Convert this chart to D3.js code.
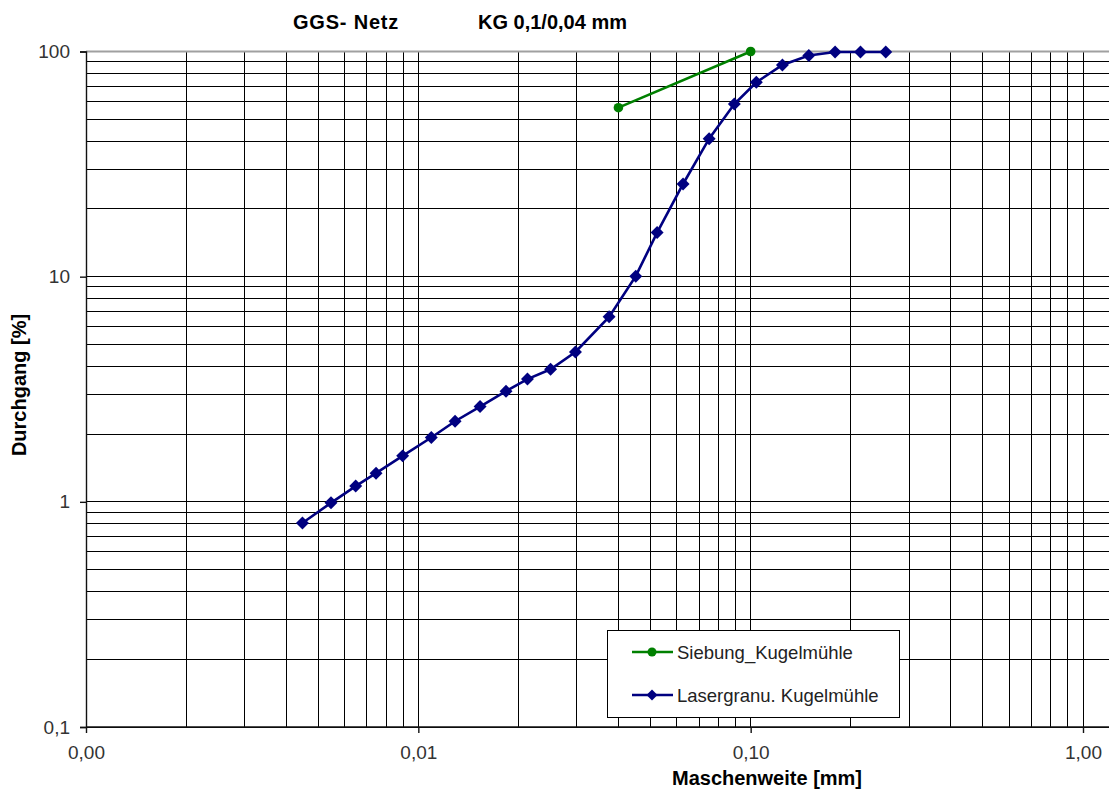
<!DOCTYPE html>
<html>
<head>
<meta charset="utf-8">
<script src="https://cdn.jsdelivr.net/npm/d3@7/dist/d3.min.js"></script>
<style>
    body { margin: 0; background: #fff; }
    svg { display: block; font-family: "Liberation Sans", Arial, sans-serif; }
</style>
</head>
<body>
<svg id="chart" width="1109" height="794"></svg>
<script>
/*global d3*/

//mesh size [mm] and passing [%]
var laserSizes = [0.00448, 0.00546, 0.00648, 0.00746, 0.00897, 0.01094, 0.0129, 0.01534, 0.01836, 0.0213, 0.0250, 0.0297,
        0.0375, 0.0451, 0.0523, 0.0626, 0.0750, 0.0893, 0.104, 0.1246, 0.1496, 0.1795, 0.214, 0.255],
    laserPassing = [0.805, 0.99, 1.175, 1.34, 1.60, 1.93, 2.28, 2.65, 3.10, 3.51, 3.88, 4.63,
        6.63, 10.05, 15.7, 25.8, 41.0, 58.4, 73.0, 87.1, 96.0, 99.5, 99.5, 99.5],
    sieveSizes = [0.04, 0.1],
    sievePassing = [56.3, 100],
    xTickValues = [0.001, 0.01, 0.1, 1],
    xTickLabels = ["0,00", "0,01", "0,10", "1,00"],
    yTickValues = [0.1, 1, 10, 100],
    yTickLabels = ["0,1", "1", "10", "100"],
    seriesNames = ["Siebung_Kugelmühle", "Lasergranu. Kugelmühle"];

var svg = d3.select("#chart"),
    chartWidth = 1109,
    plotLeft = 86,
    plotTop = 51.5,
    plotBottom = 727,
    x = d3.scaleLog().domain([0.001, 1]).range([plotLeft, 1083]),
    y = d3.scaleLog().domain([0.1, 100]).range([plotBottom, plotTop]);

//grid, one line per 1..9 step of every decade
svg.append("g")
    .selectAll("line")
    .data(y.ticks())
    .enter().append("line")
        .attr("x1", plotLeft)
        .attr("x2", chartWidth)
        .attr("y1", function (d) { return y(d); })
        .attr("y2", function (d) { return y(d); })
        .attr("stroke", "#000")
        .attr("shape-rendering", "crispEdges");
svg.append("g")
    .selectAll("line")
    .data(x.ticks())
    .enter().append("line")
        .attr("x1", function (d) { return x(d); })
        .attr("x2", function (d) { return x(d); })
        .attr("y1", plotTop)
        .attr("y2", plotBottom)
        .attr("stroke", "#000")
        .attr("shape-rendering", "crispEdges");
//gray frame on top
svg.append("line")
    .attr("x1", plotLeft).attr("x2", chartWidth)
    .attr("y1", plotTop).attr("y2", plotTop)
    .attr("stroke", "#a0a0a0")
    .attr("stroke-width", 2);

//axes
var xAxis = d3.axisBottom(x)
        .tickValues(xTickValues)
        .tickFormat(function (d, i) { return xTickLabels[i]; })
        .tickSize(6)
        .tickPadding(13),
    yAxis = d3.axisLeft(y)
        .tickValues(yTickValues)
        .tickFormat(function (d, i) { return yTickLabels[i]; })
        .tickSize(6)
        .tickPadding(10);
var gx = svg.append("g")
    .attr("transform", "translate(0," + plotBottom + ")")
    .call(xAxis);
gx.select(".domain").attr("d", "M" + plotLeft + ",0H" + chartWidth);
svg.append("g")
    .attr("transform", "translate(" + plotLeft + ",0)")
    .call(yAxis);
svg.selectAll(".tick text")
    .attr("font-family", "Liberation Sans, Arial, sans-serif")
    .attr("font-size", 19)
    .attr("fill", "#333");
svg.selectAll(".domain, .tick line").attr("stroke", "#111").attr("stroke-width", 1.4);

//series
var line = d3.line()
    .x(function (d) { return x(d[0]); })
    .y(function (d) { return y(d[1]); });
var sieveData = d3.zip(sieveSizes, sievePassing),
    laserData = d3.zip(laserSizes, laserPassing),
    diamond = d3.symbol(d3.symbolSquare, 84);

svg.append("path")
    .attr("d", line(sieveData))
    .attr("fill", "none")
    .attr("stroke", "#008000")
    .attr("stroke-width", 2.6);
svg.append("g")
    .selectAll("circle")
    .data(sieveData)
    .enter().append("circle")
        .attr("cx", function (d) { return x(d[0]); })
        .attr("cy", function (d) { return y(d[1]); })
        .attr("r", 4.8)
        .attr("fill", "#008000");

svg.append("path")
    .attr("d", line(laserData))
    .attr("fill", "none")
    .attr("stroke", "#000080")
    .attr("stroke-width", 2.6);
svg.append("g")
    .selectAll("path")
    .data(laserData)
    .enter().append("path")
        .attr("d", diamond)
        .attr("transform", function (d) { return "translate(" + x(d[0]) + "," + y(d[1]) + ") rotate(45)"; })
        .attr("fill", "#000080");

//legend
var legend = svg.append("g");
legend.append("rect")
    .attr("x", 607.5)
    .attr("y", 630.5)
    .attr("width", 292)
    .attr("height", 87)
    .attr("fill", "#fff")
    .attr("stroke", "#000");
seriesNames.forEach(function (name, i) {
    "use strict";
    var ly = 652 + i * 43,
        color = i === 0 ? "#008000" : "#000080";
    legend.append("line")
        .attr("x1", 632).attr("x2", 673)
        .attr("y1", ly).attr("y2", ly)
        .attr("stroke", color)
        .attr("stroke-width", 2.6);
    if (i === 0) {
        legend.append("circle")
            .attr("cx", 652).attr("cy", ly).attr("r", 4.5)
            .attr("fill", color);
    } else {
        legend.append("path")
            .attr("d", d3.symbol(d3.symbolSquare, 60))
            .attr("transform", "translate(652," + ly + ") rotate(45)")
            .attr("fill", color);
    }
    legend.append("text")
        .attr("x", 677)
        .attr("y", ly + 6.5)
        .attr("font-size", 18.5)
        .attr("fill", "#222")
        .text(name);
});

//titles
svg.append("text")
    .attr("x", 293).attr("y", 29)
    .attr("font-size", 20).attr("font-weight", "bold")
    .attr("letter-spacing", 0.8)
    .text("GGS- Netz");
svg.append("text")
    .attr("x", 478).attr("y", 29)
    .attr("font-size", 20).attr("font-weight", "bold")
    .text("KG 0,1/0,04 mm");
svg.append("text")
    .attr("x", 767).attr("y", 785)
    .attr("text-anchor", "middle")
    .attr("font-size", 20).attr("font-weight", "bold")
    .text("Maschenweite [mm]");
svg.append("text")
    .attr("transform", "translate(26,385) rotate(-90)")
    .attr("text-anchor", "middle")
    .attr("font-size", 20).attr("font-weight", "bold")
    .text("Durchgang [%]");
</script>
</body>
</html>
